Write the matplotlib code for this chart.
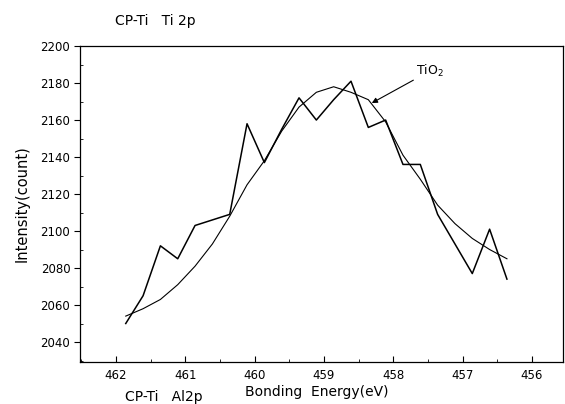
import matplotlib
matplotlib.use('Agg')
import matplotlib.pyplot as plt
from matplotlib.ticker import MultipleLocator

# binding energy (eV) and counts
energy = [461.86, 461.61, 461.36, 461.11, 460.86, 460.61, 460.36, 460.11,
          459.86, 459.61, 459.36, 459.11, 458.86, 458.61, 458.36, 458.11,
          457.86, 457.61, 457.36, 457.11, 456.86, 456.61, 456.36]
counts = [2050, 2065, 2092, 2085, 2103, 2106, 2109, 2158,
          2137, 2155, 2172, 2160, 2171, 2181, 2156, 2160,
          2136, 2136, 2109, 2093, 2077, 2101, 2074]
# smooth TiO2 fit
fit_counts = [2054, 2058, 2063, 2071, 2081, 2093, 2108, 2125,
              2138, 2154, 2167, 2175, 2178, 2175, 2171, 2159,
              2141, 2128, 2114, 2104, 2096, 2090, 2085]

fig = plt.figure(figsize=(5.65, 4.04), dpi=100)
ax = fig.add_axes([0.1416, 0.104, 0.855, 0.782])

ax.plot(energy, counts, color='black', lw=1.1)
ax.plot(energy, fit_counts, color='black', lw=0.8)

ax.set_xlim(462.52, 455.55)
ax.set_ylim(2029.2, 2200)
ax.xaxis.set_major_locator(MultipleLocator(1))
ax.xaxis.set_minor_locator(MultipleLocator(0.5))
ax.yaxis.set_major_locator(MultipleLocator(20))
ax.yaxis.set_minor_locator(MultipleLocator(10))
ax.xaxis.set_major_formatter(plt.FuncFormatter(lambda v, p: '%d' % v))
ax.tick_params(axis='x', which='major', direction='in', length=4, width=0.8, labelsize=8.5, pad=5)
ax.tick_params(axis='x', which='minor', direction='in', length=2, width=0.6)
ax.tick_params(axis='y', which='major', direction='out', length=4, width=0.8, labelsize=8.5, pad=3)
ax.tick_params(axis='y', which='minor', direction='in', length=2, width=0.6)
for s in ax.spines.values():
    s.set_linewidth(0.9)

ax.set_ylabel('Intensity(count)', fontsize=10.5, labelpad=8)
fig.text(0.434, 0.03, 'Bonding  Energy(eV)', fontsize=10, ha='left', va='center')
fig.text(0.221, 0.017, 'CP-Ti   Al2p', fontsize=10, ha='left', va='center')
fig.text(0.203, 0.948, 'CP-Ti   Ti 2p', fontsize=10, ha='left', va='center')

ax.annotate('TiO$_2$', xy=(458.31, 2169.2), xytext=(457.67, 2186.5),
            fontsize=9, va='center', ha='left',
            arrowprops=dict(arrowstyle='-|>', color='black', lw=0.8,
                            mutation_scale=8, shrinkA=0, shrinkB=0))

plt.savefig('out.png', dpi=100)
